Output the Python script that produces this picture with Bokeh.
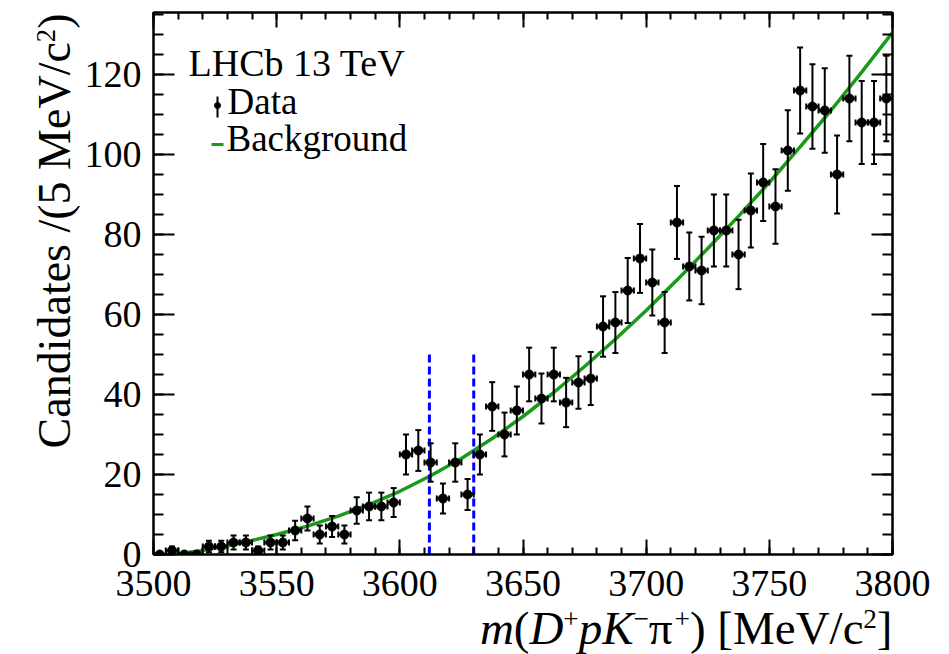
import numpy as np
from bokeh.plotting import figure
from bokeh.models import Range1d, LinearAxis, SingleIntervalTicker, Label, ColumnDataSource
from bokeh.layouts import row, column
from bokeh.core.properties import value
from bokeh.embed import file_html
from bokeh.resources import INLINE

# ---------------- data ----------------
bin_width = 5.0
bin_centers = list(np.arange(3502.5, 3800.0, bin_width))
counts = [0, 1, 0, 0, 2, 2, 3, 3, 1, 3,
          3, 6, 9, 5, 7, 5, 11, 12, 12, 13,
          25, 26, 23, 14, 23, 15, 25, 37, 30, 36,
          45, 39, 45, 38, 43, 44, 57, 58, 66, 74,
          68, 58, 83, 72, 71, 81, 81, 75, 86, 93,
          87, 101, 116, 112, 111, 95, 114, 108, 108, 114]

bkg_mass = [3508, 3510, 3520, 3530, 3540, 3550, 3562.5, 3575, 3587.5, 3600,
            3612.5, 3625, 3637.5, 3650, 3662.5, 3675, 3687.5, 3700, 3712.5,
            3725, 3737.5, 3750, 3762.5, 3775, 3787.5, 3800]
bkg_values = [0.0, 0.2, 1.0, 2.2, 3.5, 5.0, 7.1, 9.6, 12.5, 15.8,
              19.7, 24.0, 29.0, 34.5, 40.5, 47.0, 53.8, 61.0, 68.6,
              76.5, 84.6, 93.0, 101.9, 111.0, 120.6, 130.5]

window_edges = [3612, 3630]
window_top = 50

x_ticks_major = 50
y_ticks_major = 20
x_range = (3500, 3800)
y_range = (0, 135.5)

# ---------------- layout (picture pixels) ----------------
W, H = 949, 654
YT_W = 80                             # strip holding the y title
FL, FR, FT, FB = 153, 892, 12, 554    # frame edges
P_BOTTOM = 615                        # bottom of the main figure
XT_TOP = 600                          # top of the (transparent, overlapping) x-title strip
FONT = "Liberation Serif"
GREEN = "#1a9a1a"
BL = 0.34                             # renderer places alphabetic baseline this many em lower

def dx(X):
    return x_range[0] + (X - FL) * (x_range[1] - x_range[0]) / (FR - FL)

def dy(Y):
    return y_range[0] + (FB - Y) * (y_range[1] - y_range[0]) / (FB - FT)

p = figure(frame_width=FR - FL, frame_height=FB - FT,
           min_border_left=FL - YT_W, min_border_right=W - FR,
           min_border_top=FT, min_border_bottom=P_BOTTOM - FB,
           x_range=Range1d(*x_range), y_range=Range1d(*y_range),
           output_backend="svg", toolbar_location=None)
p.grid.visible = False
p.outline_line_color = "black"
p.outline_line_width = 2
p.background_fill_color = "white"
p.border_fill_color = "white"

def style_axis(ax, major_in, minor_in, show_labels, standoff):
    ax.major_tick_in = major_in
    ax.major_tick_out = 0
    ax.minor_tick_in = minor_in
    ax.minor_tick_out = 0
    ax.major_tick_line_width = 2
    ax.minor_tick_line_width = 2
    ax.axis_line_width = 2
    ax.major_tick_line_color = "black"
    ax.minor_tick_line_color = "black"
    ax.axis_line_color = "black"
    ax.major_label_text_font = FONT
    ax.major_label_standoff = standoff
    if show_labels:
        ax.major_label_text_font_size = "38px"
        ax.major_label_text_color = "black"
    else:
        ax.major_label_text_font_size = "1px"
        ax.major_label_text_alpha = 0
        ax.major_label_standoff = 0

p.xaxis.ticker = SingleIntervalTicker(interval=x_ticks_major, num_minor_ticks=5)
p.yaxis.ticker = SingleIntervalTicker(interval=y_ticks_major, num_minor_ticks=4)
style_axis(p.xaxis[0], 15, 7, True, 16)
style_axis(p.yaxis[0], 21, 10, True, 12)

top_ax = LinearAxis(ticker=SingleIntervalTicker(interval=x_ticks_major, num_minor_ticks=5))
right_ax = LinearAxis(ticker=SingleIntervalTicker(interval=y_ticks_major, num_minor_ticks=4))
style_axis(top_ax, 15, 7, False, 0)
style_axis(right_ax, 21, 10, False, 0)
p.add_layout(top_ax, "above")
p.add_layout(right_ax, "right")

# ---------------- marks ----------------
c = np.array(bin_centers)
n = np.array(counts, dtype=float)
e = np.sqrt(n)
src = ColumnDataSource(dict(x=c, y=n, lo=n - e, hi=n + e,
                            xl=c - bin_width / 2, xr=c + bin_width / 2))

p.line(bkg_mass, bkg_values, line_color=GREEN, line_width=3.5)

for xe in window_edges:
    p.segment(x0=[xe], y0=[0], x1=[xe], y1=[window_top],
              line_color="#0000ff", line_width=3, line_dash="8 4")

p.segment(x0="x", y0="lo", x1="x", y1="hi", source=src, line_color="black", line_width=2)
p.segment(x0="xl", y0="y", x1="xr", y1="y", source=src, line_color="black", line_width=2)
p.scatter(x="x", y="lo", source=src, marker="dash", size=6, line_color="black", line_width=2)
p.scatter(x="x", y="hi", source=src, marker="dash", size=6, line_color="black", line_width=2)
p.scatter(x="xl", y="y", source=src, marker="dash", angle=np.pi / 2, size=6, line_color="black", line_width=2)
p.scatter(x="xr", y="y", source=src, marker="dash", angle=np.pi / 2, size=6, line_color="black", line_width=2)
p.scatter(x="x", y="y", source=src, marker="circle", size=9, fill_color="black", line_color="black")

# ---------------- legend (inside the frame) ----------------
def lab(X, Y, text, size):
    p.add_layout(Label(x=dx(X), y=dy(Y - BL * size), x_units="data", y_units="data", text=text,
                       text_font=FONT, text_font_size=f"{size}px",
                       text_align="left", text_baseline="alphabetic", text_color="black"))

lab(188, 75, "LHCb 13 TeV", 38)
lab(227, 114, "Data", 37)
lab(226, 151, "Background", 37)
p.segment(x0=[dx(217)], y0=[dy(96)], x1=[dx(217)], y1=[dy(117)], line_color="black", line_width=2)
p.scatter(x=[dx(217)], y=[dy(105)], marker="circle", size=6, fill_color="black", line_color="black")
p.segment(x0=[dx(211)], y0=[dy(144)], x1=[dx(223)], y1=[dy(144)], line_color=GREEN, line_width=3)

# ---------------- title strips ----------------
def strip(w, h, xr, yr, bl=0, br=0, transparent=False):
    f = figure(width=w, height=h, x_range=Range1d(*xr), y_range=Range1d(*yr),
               min_border=0, min_border_left=bl, min_border_right=br,
               min_border_top=0, min_border_bottom=0,
               x_axis_type=None, y_axis_type=None,
               output_backend="svg", toolbar_location=None)
    f.outline_line_color = None
    f.grid.visible = False
    if transparent:
        f.background_fill_color = None
        f.border_fill_color = None
    else:
        f.background_fill_color = "white"
        f.border_fill_color = "white"
    return f

reg = {' ': 250, '(': 333, ')': 333, '[': 333, ']': 333, '/': 278, 'M': 889, 'e': 444,
       'V': 722, 'c': 444, '2': 500, '+': 564, '\u2212': 564, '\u03c0': 549,
       'C': 667, 'a': 444, 'n': 500, 'd': 500, 'i': 278, 't': 278, 's': 389, '5': 500}
ital = {'m': 722, 'D': 722, 'p': 500, 'K': 667}

def width(text, size, italic):
    tab = ital if italic else reg
    return sum(tab.get(ch, 500) for ch in text) / 1000.0 * size

# x title strip: overlaps the bottom border of the main figure (negative top margin),
# its frame is aligned with the main frame
px = strip(W - YT_W, H - XT_TOP, (FL, FR + 1), (0, H - XT_TOP),
           bl=FL - YT_W, br=W - FR - 1, transparent=True)
px.margin = (XT_TOP - P_BOTTOM, 0, 0, 0)

def xt_text(X, Y, text, size, italic):
    px.text(x=[X], y=[H - (Y - BL * size)], text=[text], text_font=value(FONT),
            text_font_size=value(f"{size}px"),
            text_font_style="italic" if italic else "normal",
            text_align="left", text_baseline="alphabetic", text_color="black")

F = 47
S = 0.58 * F
xsegs = [("m", "i"), ("(", "r"), ("D", "i"), ("+", "s"), ("p", "i"), ("K", "i"),
         ("\u2212", "s"), ("\u03c0", "r"), ("+", "s"), (") [MeV/c", "r"), ("2", "s"), ("]", "r")]
total = sum(width(t, S if k == "s" else F, k == "i") for t, k in xsegs)
X = 893 - total
BASE = 643
for t, k in xsegs:
    if k == "s":
        xt_text(X, BASE - 0.33 * F, t, S, False)
        X += width(t, S, False)
    else:
        xt_text(X, BASE, t, F, k == "i")
        X += width(t, F, k == "i")

# y title strip: left of everything
py = strip(YT_W, H, (0, YT_W), (0, H))
def yt_text(X, Y, text, size):
    py.text(x=[X - BL * size], y=[H - Y], text=[text], text_font=value(FONT),
            text_font_size=value(f"{size}px"), angle=np.pi / 2,
            text_align="right", text_baseline="alphabetic", text_color="black")

FY = 46
SY = 0.58 * FY
YB = 70
Y = 13
yt_text(YB, Y, ")", FY)
Y += width(")", FY, False)
yt_text(YB - 0.33 * FY, Y, "2", SY)
Y += width("2", SY, False)
yt_text(YB, Y, "Candidates /(5 MeV/c", FY)

layout = row(py, column(p, px))
open("out.html", "w").write(file_html(layout, INLINE))
